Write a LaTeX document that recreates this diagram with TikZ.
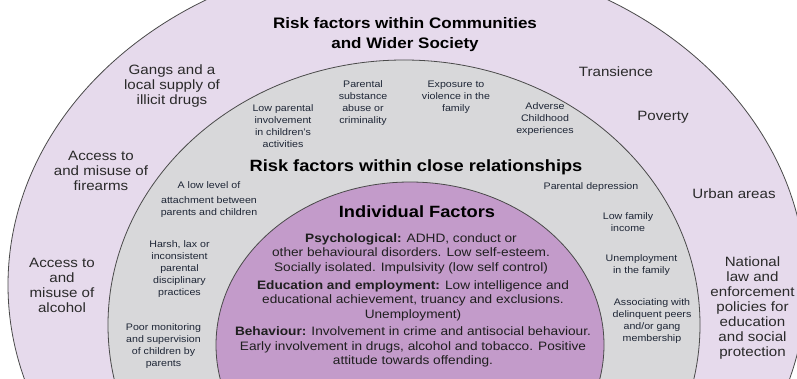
\documentclass[tikz,border=0pt]{standalone}
\usepackage{fontspec}
\setmainfont{Liberation Sans}[FakeStretch=1.12]
\definecolor{outercol}{HTML}{E6DAEC}
\definecolor{midcol}{HTML}{D8D8DA}
\definecolor{innercol}{HTML}{C39BCA}
\definecolor{edgecol}{HTML}{4A4A4A}
\definecolor{graytext}{HTML}{1E2636}
\definecolor{outtext}{HTML}{2A2A2A}
\tikzset{
  ring/.style={draw=edgecol, line width=0.8pt},
  headtxt/.style={inner sep=0pt, align=center, text=black, font=\bfseries\fontsize{16.3}{19}\selectfont},
  titletxt/.style={inner sep=0pt, align=center, text=black, font=\bfseries\fontsize{15.2}{20}\selectfont},
  bodytxt/.style={inner sep=0pt, align=center, text=black!88, font=\fontsize{12.2}{14.5}\selectfont},
  smalltxt/.style={inner sep=0pt, align=center, text=graytext, font=\fontsize{9.5}{12}\selectfont},
  outtxt/.style={inner sep=0pt, align=center, text=outtext, font=\fontsize{13.5}{15}\selectfont}
}
\begin{document}
\begin{tikzpicture}[x=1pt,y=-1pt]
\useasboundingbox (0,0) rectangle (797,379);
\begin{scope}
\clip (0,0) rectangle (797,379);
\fill[white] (0,0) rectangle (797,379);
\draw[ring, fill=outercol] (407,285) ellipse [x radius=399pt, y radius=330pt];
\draw[ring, fill=midcol] (404,325) ellipse [x radius=296pt, y radius=265pt];
\draw[ring, fill=innercol] (410,345) ellipse [x radius=194pt, y radius=163pt];
\end{scope}

\node[titletxt] (title) at (405,35) {Risk factors within Communities\\and Wider Society};
\node[headtxt] (close) at (416,167) {Risk factors within close relationships};
\node[headtxt] (indiv) at (417,212) {Individual Factors};

\node[bodytxt] (psych) at (411,253.5) {\textbf{Psychological:} ADHD, conduct or\\other behavioural disorders. Low self-esteem.\\Socially isolated. Impulsivity (low self control)};
\node[bodytxt] (edu) at (413,300.5) {\textbf{Education and employment:} Low intelligence and\\educational achievement, truancy and exclusions.\\Unemployment)};
\node[bodytxt] (beh) at (413,347) {\textbf{Behaviour:} Involvement in crime and antisocial behaviour.\\Early involvement in drugs, alcohol and tobacco. Positive\\attitude towards offending.};

\node[smalltxt] (lowpar) at (283,126) {Low parental\\involvement\\in children's\\activities};
\node[smalltxt] (parsub) at (363,103) {Parental\\substance\\abuse or\\criminality};
\node[smalltxt] (expo) at (456,97.5) {Exposure to\\violence in the\\family};
\node[smalltxt] (adverse) at (545,119.5) {Adverse\\Childhood\\experiences};
\node[smalltxt] (lowlevel) at (209,199.5) {A low level of\\[2.5pt]attachment between\\parents and children};
\node[smalltxt] (harsh) at (179.5,269) {Harsh, lax or\\inconsistent\\parental\\disciplinary\\practices};
\node[smalltxt] (poor) at (163.5,346.5) {Poor monitoring\\and supervision\\of children by\\parents};
\node[smalltxt] (pardep) at (591,187) {Parental depression};
\node[smalltxt] (lowfam) at (628,222) {Low family\\income};
\node[smalltxt] (unemp) at (641.5,265.5) {Unemployment\\in the family};
\node[smalltxt] (assoc) at (652,321) {Associating with\\delinquent peers\\and/or gang\\membership};

\node[outtxt] (gangs) at (172,86) {Gangs and a\\local supply of\\illicit drugs};
\node[outtxt] (firearms) at (101,171) {Access to\\and misuse of\\firearms};
\node[outtxt] (alcohol) at (62,285.5) {Access to\\and\\misuse of\\alcohol};
\node[outtxt] (transience) at (616,72) {Transience};
\node[outtxt] (poverty) at (663,117) {Poverty};
\node[outtxt] (urban) at (734,194) {Urban areas};
\node[outtxt] (national) at (752.5,308) {National\\law and\\enforcement\\policies for\\education\\and social\\protection};
\end{tikzpicture}
\end{document}
